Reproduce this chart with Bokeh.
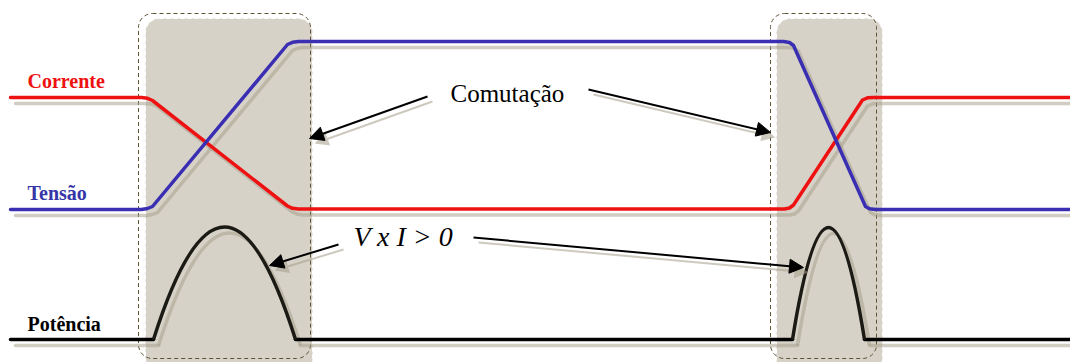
import numpy as np
from bokeh.plotting import figure
from bokeh.models import Range1d, BoxAnnotation, Arrow, NormalHead, ColumnDataSource
from bokeh.core.properties import value
from bokeh.embed import file_html
from bokeh.resources import INLINE

# ---- data (diagram coordinates) ----
current_x = [10, 141, 147, 152, 287, 292, 298, 784, 789, 793, 862, 867, 873, 1070]
current_y = [97, 97, 97.8, 100, 205.5, 207.8, 208.5, 208.5, 207.5, 204.5, 99.5, 97.3, 97, 97]

voltage_x = [10, 141, 147, 152, 287, 292, 298, 783, 789, 793, 865, 869, 875, 1070]
voltage_y = [209, 209, 208, 206, 44, 41.8, 41, 41, 42, 45, 206, 208.3, 209, 209]

power_flat_x = [[10, 153], [295, 792], [864, 1070]]
power_base = 339
pulse_start = [153, 792]
pulse_end = [295, 864]
pulse_ctrl_x = [224, 828]
pulse_ctrl_y = [114, 115]

shade_left = [145, 776]
shade_right = [312, 882]
shade_top = 18
shade_bottom = 372
dash_left = [138, 770]
dash_right = [310, 876]
dash_top = 13
dash_bottom = 358

arrow_x0 = [427, 588, 338, 473]
arrow_y0 = [96, 89, 244, 237]
arrow_x1 = [309, 770, 269, 803]
arrow_y1 = [138, 132, 265, 267]

labels = ["Corrente", "Tensão", "Potência"]
label_x = [27, 27, 27]
label_y = [80, 192, 323]
label_colors = ["#ee1111", "#3535a8", "#000000"]

# ---- styles ----
RED = "#ee1111"
BLUE = "#3a2fb2"
BLACK = "#1c1a14"
SHADOW = "#a49c88"
SH_A = 0.5
DX, DY = 5, 6

p = figure(width=1070, height=362, x_range=Range1d(0, 1070), y_range=Range1d(362, 0),
           output_backend="svg", toolbar_location=None, min_border=0,
           x_axis_type=None, y_axis_type=None)
p.grid.visible = False
p.outline_line_color = None
p.background_fill_color = "white"
p.border_fill_color = "white"

# switching regions
for l, r in zip(shade_left, shade_right):
    p.add_layout(BoxAnnotation(left=l, right=r, top=shade_top, bottom=shade_bottom,
                               fill_color="#d6d2c8", fill_alpha=1.0,
                               line_color="white", line_alpha=1.0, line_dash="4 3", line_width=1,
                               border_radius=14, level="underlay"))
for l, r in zip(dash_left, dash_right):
    p.add_layout(BoxAnnotation(left=l, right=r, top=dash_top, bottom=dash_bottom,
                               fill_alpha=0.0, line_color="#5e5234", line_alpha=1.0,
                               line_dash="4 3", line_width=1, border_radius=14,
                               level="underlay"))

# shadows
def off(a, d):
    return list(np.asarray(a, dtype=float) + d)

p.line(off(current_x, DX), off(current_y, DY), line_color=SHADOW, line_alpha=SH_A,
       line_width=3.5, line_join="round", line_cap="round")
p.line(off(voltage_x, DX), off(voltage_y, DY), line_color=SHADOW, line_alpha=SH_A,
       line_width=3.5, line_join="round", line_cap="round")
p.multi_line([off(xs, DX) for xs in power_flat_x], [[power_base + DY] * 2 for _ in power_flat_x],
             line_color=SHADOW, line_alpha=SH_A, line_width=3.5, line_cap="round")
p.quadratic(x0=off(pulse_start, DX), y0=[power_base + DY] * 2, x1=off(pulse_end, DX),
            y1=[power_base + DY] * 2, cx=off(pulse_ctrl_x, DX), cy=off(pulse_ctrl_y, DY),
            line_color=SHADOW, line_alpha=SH_A, line_width=3.5)

# main traces
p.line(current_x, current_y, line_color=RED, line_width=3.5, line_join="round", line_cap="round")
p.line(voltage_x, voltage_y, line_color=BLUE, line_width=3.5, line_join="round", line_cap="round")
p.multi_line(power_flat_x, [[power_base] * 2 for _ in power_flat_x],
             line_color="#000000", line_width=3.5, line_cap="round")
p.quadratic(x0=pulse_start, y0=[power_base] * 2, x1=pulse_end, y1=[power_base] * 2,
            cx=pulse_ctrl_x, cy=pulse_ctrl_y, line_color=BLACK, line_width=3.5)

# arrows (shadow then main)
sh_src = ColumnDataSource(dict(x0=off(arrow_x0, 5), y0=off(arrow_y0, 5),
                               x1=off(arrow_x1, 5), y1=off(arrow_y1, 5)))
p.add_layout(Arrow(end=NormalHead(size=14, fill_color=SHADOW, fill_alpha=0.55, line_alpha=0),
                   x_start="x0", y_start="y0", x_end="x1", y_end="y1", source=sh_src,
                   line_color=SHADOW, line_alpha=0.55, line_width=2))
a_src = ColumnDataSource(dict(x0=arrow_x0, y0=arrow_y0, x1=arrow_x1, y1=arrow_y1))
p.add_layout(Arrow(end=NormalHead(size=14, fill_color="black", line_color="black", line_width=1),
                   x_start="x0", y_start="y0", x_end="x1", y_end="y1", source=a_src,
                   line_color="black", line_width=2))

# texts
p.text(x=label_x, y=label_y, text=labels, text_color=label_colors,
       text_font=value("Liberation Serif"), text_font_style="bold",
       text_font_size="20px", text_baseline="alphabetic", text_align="left")
p.text(x=[450], y=[93], text=["Comutação"], text_color="black",
       text_font=value("Liberation Serif"), text_font_size="25px",
       text_baseline="alphabetic", text_align="left")
p.text(x=[353], y=[236], text=["V x I > 0"], text_color="black",
       text_font=value("Liberation Serif"), text_font_style="italic",
       text_font_size="28px", text_baseline="alphabetic", text_align="left")

open("out.html", "w").write(file_html(p, INLINE))
